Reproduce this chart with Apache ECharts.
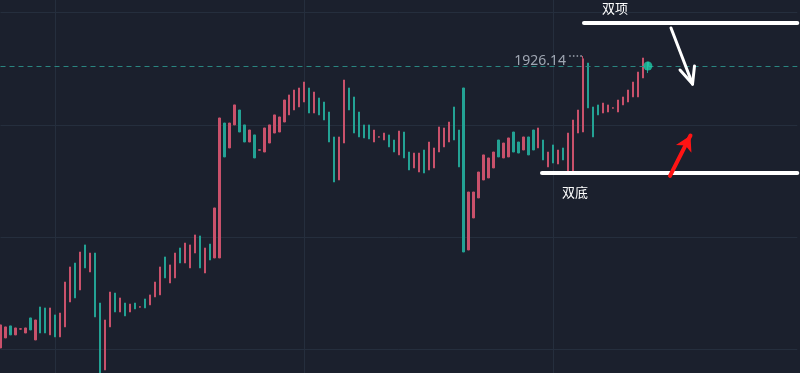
<!DOCTYPE html>
<html>
<head>
<meta charset="utf-8">
<script src="https://cdn.jsdelivr.net/npm/echarts@6/dist/echarts.min.js"></script>
<style>
html,body{margin:0;padding:0;background:#1b202d;}
#c{width:800px;height:373px;}
</style>
</head>
<body>
<div id="c"></div>
<script>
// ---- data: each candle is [open, close, low, high] ----
const candles = [
[1900.16,1902.21,1900.16,1902.21],[1901.05,1902.03,1901.05,1902.03],[1902.12,1901.32,1901.32,1902.12],[1901.32,1901.94,1901.32,1901.94],
[1901.83,1901.87,1901.80,1901.90],[1901.49,1901.94,1901.49,1901.94],[1902.83,1901.76,1901.76,1902.83],[1900.87,1902.65,1900.87,1902.65],
[1903.81,1901.49,1901.49,1903.81],[1903.72,1901.49,1901.49,1903.72],[1901.32,1903.72,1901.32,1903.72],[1903.10,1901.14,1901.14,1903.10],
[1901.14,1903.27,1901.14,1903.27],[1902.03,1906.03,1902.03,1906.03],[1904.25,1907.37,1904.25,1907.37],[1907.72,1904.61,1904.61,1907.72],
[1905.32,1908.70,1905.32,1908.70],[1909.33,1907.28,1907.28,1909.33],[1906.92,1908.61,1906.92,1908.61],[1908.61,1902.92,1902.92,1908.61],
[1904.16,1897.76,1897.76,1904.16],[1898.20,1902.65,1898.20,1902.65],[1902.03,1905.14,1902.03,1905.14],[1905.05,1903.36,1903.36,1905.05],
[1903.36,1904.61,1903.36,1904.61],[1904.16,1903.01,1903.01,1904.16],[1903.36,1904.07,1903.36,1904.07],[1904.16,1903.63,1903.63,1904.16],
[1903.79,1903.83,1903.76,1903.86],[1904.52,1903.72,1903.72,1904.52],[1903.99,1904.88,1903.99,1904.88],[1904.70,1906.03,1904.70,1906.03],
[1904.88,1907.37,1904.88,1907.37],[1908.26,1906.39,1906.39,1908.26],[1905.94,1907.55,1905.94,1907.55],[1906.39,1908.61,1906.39,1908.61],
[1909.06,1907.72,1907.72,1909.06],[1907.72,1909.50,1907.72,1909.50],[1907.28,1909.33,1907.28,1909.33],[1908.61,1910.22,1908.61,1910.22],
[1910.13,1907.28,1907.28,1910.13],[1906.83,1909.06,1906.83,1909.06],[1909.41,1907.99,1907.99,1909.41],[1908.17,1912.62,1908.17,1912.62],
[1908.17,1920.63,1908.17,1920.63],[1920.18,1917.16,1917.16,1920.18],[1917.96,1920.18,1917.96,1920.18],[1920.01,1921.79,1920.01,1921.79],
[1921.34,1919.38,1919.38,1921.34],[1920.01,1918.49,1918.49,1920.01],[1918.49,1919.56,1918.49,1919.56],[1919.12,1917.07,1917.07,1919.12],
[1917.76,1917.80,1917.73,1917.83],[1917.60,1919.74,1917.60,1919.74],[1918.40,1920.01,1918.40,1920.01],[1919.29,1920.90,1919.29,1920.90],
[1919.38,1920.72,1919.38,1920.72],[1920.27,1922.23,1920.27,1922.23],[1920.90,1922.68,1920.90,1922.68],[1921.34,1923.12,1921.34,1923.12],
[1921.61,1923.30,1921.61,1923.30],[1922.05,1923.83,1922.05,1923.83],[1923.30,1921.07,1921.07,1923.30],[1921.07,1922.94,1921.07,1922.94],
[1922.41,1920.90,1920.90,1922.41],[1922.05,1920.45,1920.45,1922.05],[1921.16,1918.49,1918.49,1921.16],[1918.94,1914.93,1914.93,1918.94],
[1915.11,1918.94,1915.11,1918.94],[1918.40,1924.01,1918.40,1924.01],[1923.30,1921.34,1921.34,1923.30],[1922.50,1919.29,1919.29,1922.50],
[1921.16,1918.94,1918.94,1921.16],[1920.01,1918.85,1918.85,1920.01],[1920.01,1918.76,1918.76,1920.01],[1918.49,1919.56,1918.49,1919.56],
[1918.92,1918.96,1918.89,1918.99],[1918.67,1919.29,1918.67,1919.29],[1919.12,1918.05,1918.05,1919.12],[1918.67,1917.60,1917.60,1918.67],
[1917.34,1919.47,1917.34,1919.47],[1919.38,1917.07,1917.07,1919.38],[1917.60,1916.00,1916.00,1917.60],[1916.18,1917.51,1916.18,1917.51],
[1915.82,1917.51,1915.82,1917.51],[1917.78,1915.73,1915.73,1917.78],[1916.00,1918.49,1916.00,1918.49],[1916.18,1917.96,1916.18,1917.96],
[1917.60,1919.83,1917.60,1919.83],[1918.05,1919.74,1918.05,1919.74],[1918.49,1920.27,1918.49,1920.27],[1921.61,1918.67,1918.67,1921.61],
[1919.56,1916.27,1916.27,1919.56],[1923.30,1908.70,1908.70,1923.30],[1908.88,1914.04,1908.88,1914.04],[1911.73,1914.04,1911.73,1914.04],
[1913.51,1915.82,1913.51,1915.82],[1915.11,1917.34,1915.11,1917.34],[1915.29,1917.07,1915.29,1917.07],[1916.18,1917.60,1916.18,1917.60],
[1918.67,1917.16,1917.16,1918.67],[1917.07,1918.40,1917.07,1918.40],[1917.16,1918.85,1917.16,1918.85],[1919.38,1917.60,1917.60,1919.38],
[1918.49,1917.51,1917.51,1918.49],[1917.78,1918.94,1917.78,1918.94],[1918.94,1917.34,1917.34,1918.94],[1919.56,1917.78,1917.78,1919.56],
[1917.96,1919.74,1917.96,1919.74],[1918.67,1916.89,1916.89,1918.67],[1916.27,1917.60,1916.27,1917.60],[1918.23,1916.62,1916.62,1918.23],
[1916.53,1917.78,1916.53,1917.78],[1917.96,1916.89,1916.89,1917.96],[1915.82,1919.29,1915.82,1919.29],[1915.73,1920.45,1915.73,1920.45],
[1919.29,1921.34,1919.29,1921.34],[1919.38,1925.90,1919.38,1926.14],[1925.52,1921.52,1921.52,1925.52],[1921.61,1918.94,1918.94,1921.61],
[1921.79,1920.90,1920.90,1921.79],[1921.07,1921.96,1921.07,1921.96],[1921.16,1921.79,1921.16,1921.79],[1921.50,1921.54,1921.47,1921.57],
[1921.16,1922.23,1921.16,1922.23],[1921.79,1922.50,1921.79,1922.50],[1922.05,1923.12,1922.05,1923.12],[1922.50,1923.83,1922.50,1923.83],
[1922.50,1924.72,1922.50,1924.72],[1924.19,1925.97,1924.19,1925.97],[1925.61,1925.26,1924.63,1925.61]
];
const categoryCount = 161;            // candles plus empty space to the right edge
const categories = Array.from({length: categoryCount}, (_, i) => 'K' + (i + 1));
const priceRange = [1897.93, 1931.13];    // visible price window (axis labels hidden)
const priceGridLevels = [1900, 1910, 1920, 1930];
const doubleTopLevel = 1929.08;
const doubleBottomLevel = 1915.71;
const textTop = '双项';
const textBottom = '双底';

// ---- derived ----
const lastIdx = candles.length - 1;
const lastClose = candles[lastIdx][1];
const maxHigh = Math.max(...candles.map(d => d[3]));
const maxIdx = candles.findIndex(d => d[3] === maxHigh);

const RED = '#c9516b', TEAL = '#23a294', GRID = '#252e3d';
const vGrid = [11, 61, 111];
const lastX = categoryCount - 1;

const chart = echarts.init(document.getElementById('c'), null, {renderer: 'canvas'});

chart.setOption({
  backgroundColor: '#1b202d',
  animation: false,
  grid: {left: 0.5, right: 2.7, top: 0, bottom: 0, containLabel: false},
  xAxis: [
    {type: 'category', data: categories, boundaryGap: false,
     axisLine: {show: false}, axisTick: {show: false}, axisLabel: {show: false},
     splitLine: {show: true, interval: (i) => vGrid.includes(i), lineStyle: {color: GRID, width: 1}}},
    {type: 'value', min: 0, max: lastX, show: false}
  ],
  yAxis: {type: 'value', min: priceRange[0], max: priceRange[1],
    axisLine: {show: false}, axisTick: {show: false}, axisLabel: {show: false},
    splitLine: {show: false}},
  series: [
    {
      type: 'line', xAxisIndex: 1, data: [[0, priceRange[0] - 5], [1, priceRange[0] - 5]], symbol: 'none',
      lineStyle: {opacity: 0}, silent: true, z: 0,
      markLine: {
        silent: true, symbol: ['none', 'none'], label: {show: false}, z: 0,
        lineStyle: {type: 'solid', color: GRID, width: 1},
        data: priceGridLevels.map(v => ({yAxis: v}))
      }
    },
    {
      type: 'candlestick', data: candles, barWidth: 1.8, clip: false, z: 2,
      itemStyle: {color: RED, color0: TEAL, borderColor: RED, borderColor0: TEAL, borderColorDoji: RED, borderWidth: 1},
      markLine: {
        silent: true, symbol: ['none', 'none'], label: {show: false},
        lineStyle: {type: [5, 4], color: '#2a8580', width: 1},
        data: [{yAxis: lastClose}]
      }
    },
    {
      type: 'scatter', data: [[lastIdx, lastClose]], symbol: 'circle', symbolSize: 9,
      itemStyle: {color: '#1fcaa8'}, silent: true, z: 5
    },
    {
      type: 'line', xAxisIndex: 1, data: [[0, priceRange[0] - 5], [1, priceRange[0] - 5]], symbol: 'none',
      lineStyle: {opacity: 0}, silent: true, z: 6,
      markLine: {
        silent: true, symbol: ['none', 'none'], label: {show: false},
        data: [
          [{coord: [117.17, doubleTopLevel], lineStyle: {color: '#ffffff', width: 4, type: 'solid', cap: 'round'}}, {coord: [lastX, doubleTopLevel]}],
          [{coord: [108.73, doubleBottomLevel], lineStyle: {color: '#ffffff', width: 4, type: 'solid', cap: 'round'}}, {coord: [lastX, doubleBottomLevel]}],
          [{coord: [134.64, 1928.64], lineStyle: {color: '#ffffff', width: 3, type: 'solid', cap: 'round'}}, {coord: [138.96, 1923.65]}],
          [{coord: [136.45, 1924.90], lineStyle: {color: '#ffffff', width: 3, type: 'solid', cap: 'round'}}, {coord: [138.96, 1923.65]}],
          [{coord: [139.36, 1925.26], lineStyle: {color: '#ffffff', width: 3, type: 'solid', cap: 'round'}}, {coord: [138.96, 1923.65]}],
          [{coord: [134.44, 1915.47], lineStyle: {color: '#ff1414', width: 4, type: 'solid', cap: 'round'}},
           {coord: [138.55, 1919.07], symbol: 'arrow', symbolSize: [13, 15]}],
          [{coord: [maxIdx - 2.8, maxHigh], lineStyle: {color: '#a0a7b3', width: 1.5, type: [1.5, 2.2]}}, {coord: [maxIdx - 0.2, maxHigh]}]
        ]
      },
      markPoint: {
        silent: true, symbol: 'circle', symbolSize: 0, itemStyle: {color: 'transparent'},
        data: [
          {coord: [123.39, 1930.37], label: {show: true, position: 'inside', formatter: textTop, color: '#ffffff', fontSize: 13, fontFamily: 'Noto Sans CJK SC'}},
          {coord: [115.36, 1914.07], label: {show: true, position: 'inside', formatter: textBottom, color: '#ffffff', fontSize: 13, fontFamily: 'Noto Sans CJK SC'}},
          {coord: [maxIdx - 3.45, maxHigh - 0.44], label: {show: true, position: 'left', distance: 0, formatter: maxHigh.toFixed(2), color: '#a0a7b3', fontSize: 14, fontFamily: 'Noto Sans'}}
        ]
      }
    }
  ]
});
</script>
</body>
</html>
